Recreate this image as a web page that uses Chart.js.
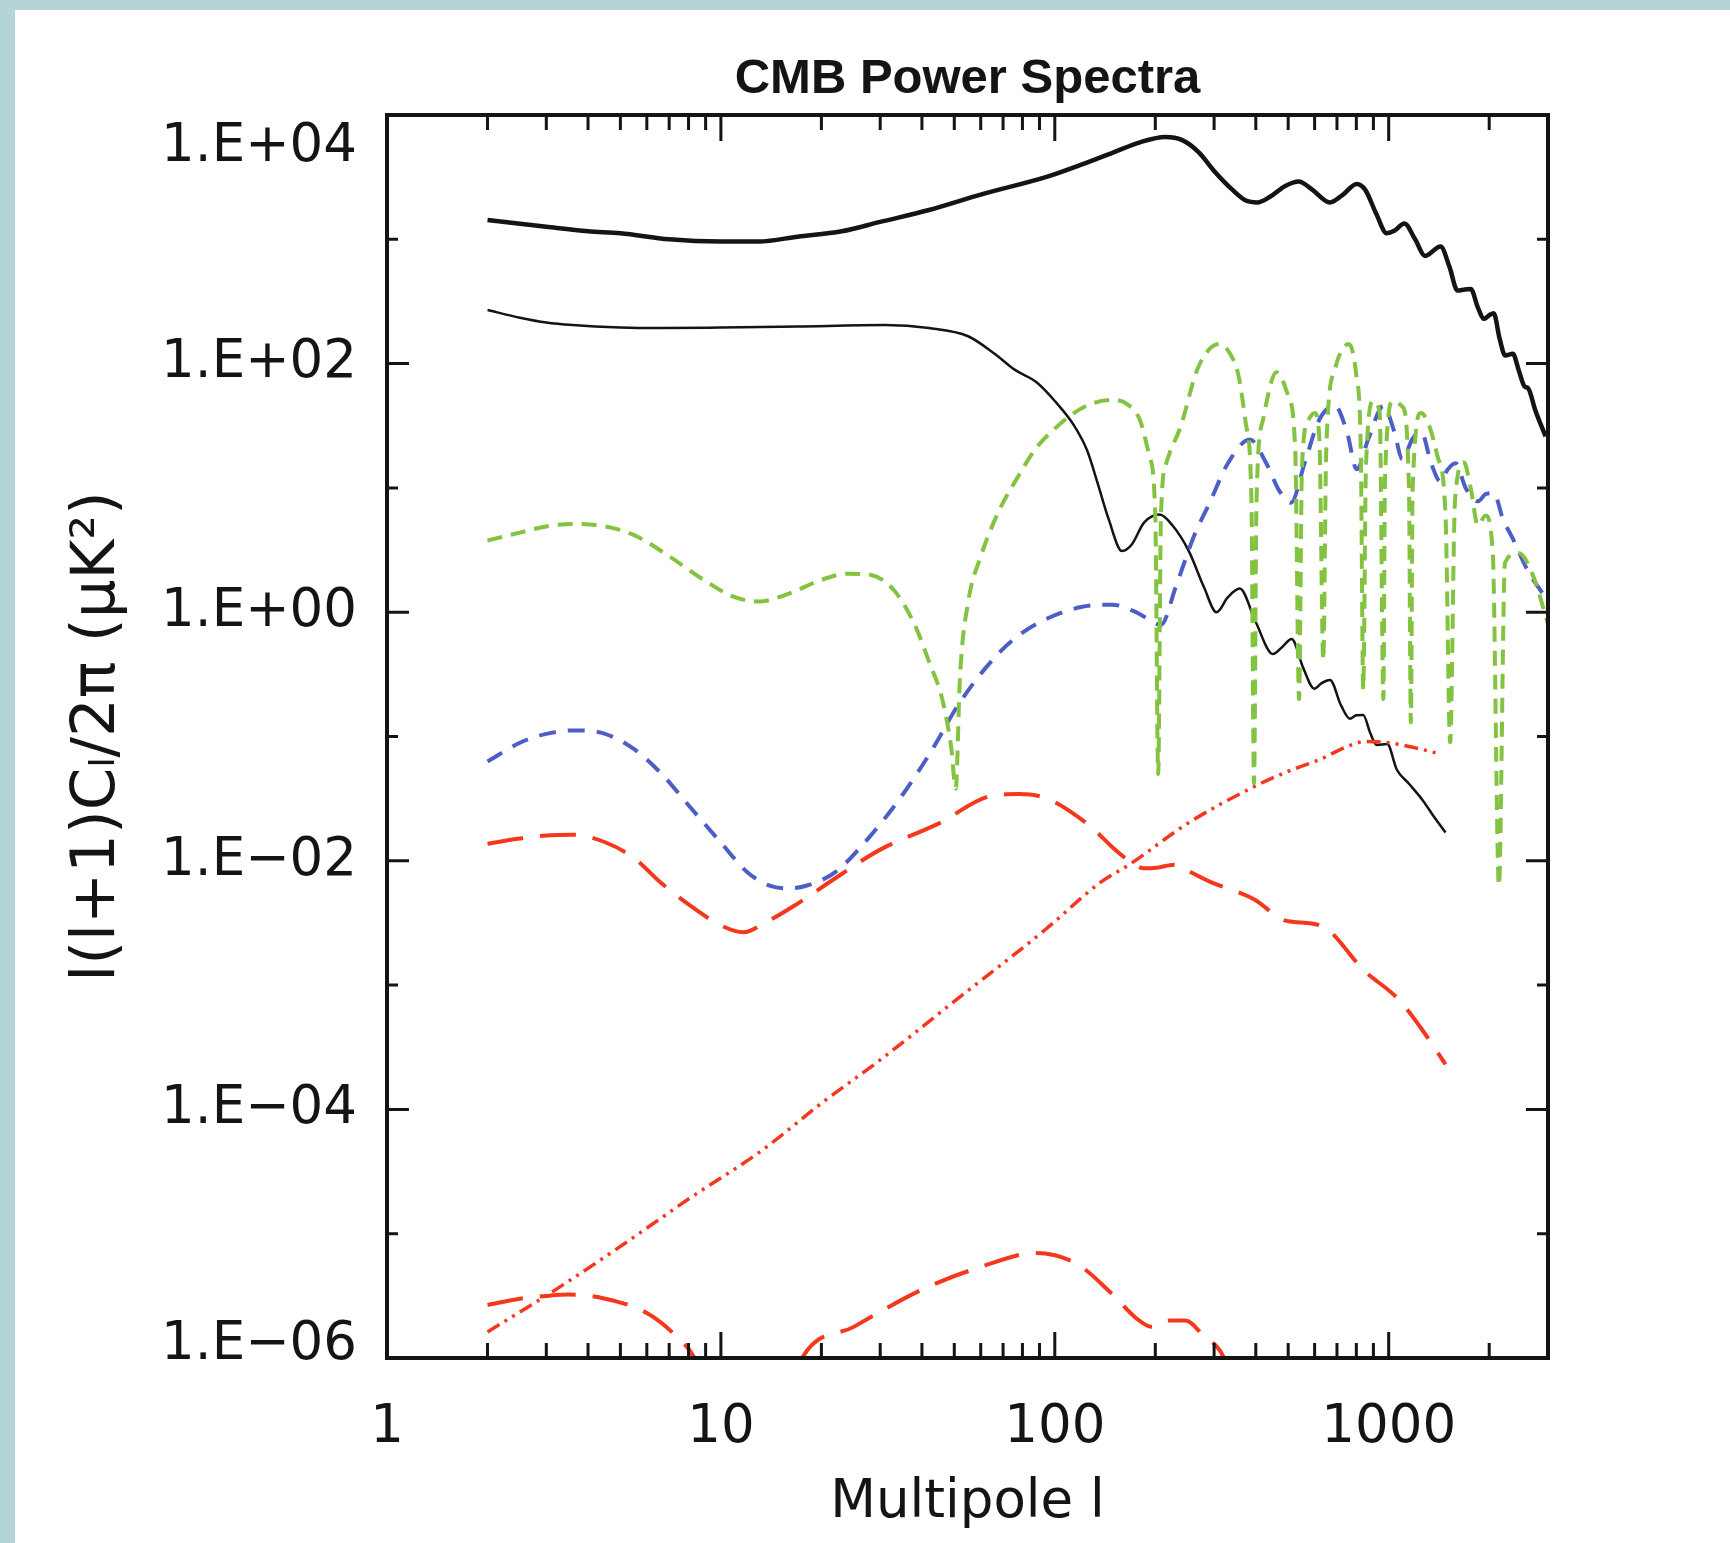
<!DOCTYPE html>
<html>
<head>
<meta charset="utf-8">
<script src="https://cdn.jsdelivr.net/npm/chart.js@4.4.0/dist/chart.umd.min.js"></script>
<style>
  html, body { margin: 0; padding: 0; background: #b4d4d5; }
  #panel { position: absolute; left: 15px; top: 10px; width: 1715px; height: 1533px; background: #fff; }
  #wrap { position: absolute; left: 0; top: 0; width: 1730px; height: 1543px; }
</style>
</head>
<body>
<div id="panel"></div>
<div id="wrap"><canvas id="chart" width="1730" height="1543"></canvas></div>
<script>
// multipole l and l(l+1)C_l/2pi (uK^2)
const ttL = [2,3,4,5,7,10,13,17,23,30,42,60,95,120,150,180,214,240,270,300,340,375,404,440,490,538,590,667,730,802,850,920,986,1040,1114,1200,1286,1430,1520,1607,1690,1762,1850,1932,2000,2063,2150,2234,2354,2450,2548,2620,2750,2950];
const ttV = [1430,1260,1160,1120,1000,960,960,1050,1160,1380,1720,2290,3190,3980,5010,6030,6650,6310,5010,3550,2510,2040,1980,2190,2690,2920,2510,1980,2290,2790,2510,1580,1120,1170,1340,1000,735,875,603,387,395,398,282,229,245,254,158,116,120,89,66,63,42,26];

const tensL = [2,2.5,3,3.6,5,6.6,10,17,31,42,55,66,76,88,100,114,125,134,145,159,170,185,206,225,252,280,305,330,358,400,450,480,512,555,599,630,667,720,765,800,839,880,921,990,1057,1150,1270,1370,1480];
const tensV = [270,234,214,204,195,193,195,199,204,193,166,120,89,71,50,32,20,11.2,5.6,3.1,3.5,5.25,6.1,5.0,3.1,1.58,1.0,1.32,1.55,0.83,0.46,0.525,0.61,0.355,0.242,0.269,0.285,0.178,0.139,0.148,0.149,0.107,0.0855,0.087,0.0543,0.0417,0.0302,0.0224,0.0169];

const teL = [2,2.5,3,3.6,4.5,5.5,7,9,11,13,16,20,24,28,33,38,42,46,49,50.5,52,55,60,67.6,78,88,100,114,130,150,165,180,192,200,204,208,216,239,266,290,311,335,355,374,388,395,402,420,461,500,525,539,550,575,600,620,637,650,690,760,800,825,839,855,900,940,964,975,1030,1100,1150,1165,1180,1250,1320,1400,1480,1528,1580,1680,1760,1850,1950,2050,2139,2230,2450,2700,3000];
const teV = [3.77,4.37,4.9,5.13,4.9,4.17,2.82,1.78,1.32,1.22,1.41,1.82,2.04,2.0,1.5,0.8,0.4,0.2,0.08,0.038,0.3,1.2,2.8,6.3,12.6,21,30,40,48,51,47,35,18,6,0.05,6,16,32,87,130,144,120,80,32,8,0.042,8,35,85,55,20,0.2,15,35,40,25,0.41,20,90,144,80,20,0.24,15,50,40,0.2,12,50,45,10,0.13,10,40,32,18,6,0.09,8,16,10,5,6,3,0.0063,2.5,3,2,0.8];

const eeL = [2,2.5,3,3.6,4.5,5.5,6.6,8,10,12,14,15.8,18,22,28,35,43,51,62,75,95,120,148,175,201,208,230,260,291,330,384,430,470,510,560,620,690,750,802,870,964,1040,1098,1180,1253,1340,1430,1500,1585,1700,1853,1950,2063,2200,2354,2600,3000];
const eeV = [0.063,0.089,0.105,0.112,0.105,0.079,0.051,0.028,0.014,0.0081,0.0063,0.006,0.0063,0.0081,0.0158,0.034,0.079,0.174,0.355,0.6,0.89,1.1,1.15,1.0,0.81,0.79,1.58,3.98,7.6,15.8,24.5,15.8,9.5,7.6,15.8,35.5,45.7,28.2,14.1,25,45.7,28.2,17,25,28,15.8,11.2,14,15.8,10,7.8,8.9,9.1,5.6,3.9,2.2,1.23];

const bbtL = [2,2.5,3,3.6,4.5,5.5,6.6,8,10,11.7,13.5,16.4,22.3,30,45,64,78,95,127,150,167,185,202,228,260,291,395,491,627,849,1064,1250,1480];
const bbtV = [0.0137,0.0151,0.016,0.0162,0.0141,0.0105,0.00668,0.00447,0.00302,0.00266,0.00316,0.00427,0.00741,0.0123,0.02,0.0331,0.0344,0.0316,0.0192,0.0126,0.01,0.0087,0.0088,0.0093,0.0079,0.0068,0.0049,0.0033,0.003,0.00129,0.00078,0.00045,0.00023];

const lensL = [2,3.2,5,8,13.3,20,30,50,93,137,167,250,384,500,627,750,851,1000,1200,1436];
const lensV = [1.62e-6,3.55e-6,7.9e-6,1.9e-5,4.7e-5,1.12e-4,2.5e-4,7.4e-4,2.75e-3,6.7e-3,9.3e-3,0.02,0.038,0.0525,0.066,0.083,0.091,0.089,0.081,0.072];

const bblL = [2,2.5,3,3.5,4.5,6,7.2,8.3,10,15,17.5,25,40,60,88,116,148,175,195,220,246,280,312,360];
const bblV = [2.67e-6,3.0e-6,3.16e-6,3.24e-6,3.0e-6,2.3e-6,1.58e-6,1.02e-6,3e-7,3e-7,1e-6,1.78e-6,3.55e-6,5.4e-6,7.0e-6,5.75e-6,3.3e-6,2.1e-6,1.78e-6,2.0e-6,2.0e-6,1.5e-6,1.15e-6,5e-7];

const xTicks = [1, 10, 100, 1000];
const yTicks = [1e-6, 1e-4, 1e-2, 1, 1e2, 1e4];
const yMinor = [1e-5, 1e-3, 1e-1, 10, 1e3];

function points(ls, vs) {
    return ls.map((l, i) => ({ x: l, y: vs[i] }));
}

function expLabel(v) {
    const e = Math.round(Math.log10(v));
    const sign = e < 0 ? '\u2212' : '+';
    return '1.E' + sign + String(Math.abs(e)).padStart(2, '0');
}

const ink = '#141414';
const green = '#84c341';
const blue = '#4d5fc6';
const red = '#f4381e';
const tickFont = { family: 'DejaVu Sans', size: 53 };

// inward ticks on all four sides, plus the box
const framePlugin = {
    id: 'frame',
    afterDatasetsDraw(chart) {
        const { ctx, chartArea: a, scales } = chart;
        const x = scales.x, y = scales.y;
        ctx.save();
        ctx.strokeStyle = ink;
        ctx.lineWidth = 3;
        ctx.beginPath();
        for (let k = 1; k <= 1000; k *= 10) {
            for (let m = 1; m <= 9; m++) {
                const v = m * k;
                if (v > 3000) break;
                const px = x.getPixelForValue(v);
                const len = m === 1 ? 26 : 15;
                ctx.moveTo(px, a.bottom); ctx.lineTo(px, a.bottom - len);
                ctx.moveTo(px, a.top); ctx.lineTo(px, a.top + len);
            }
        }
        yTicks.concat(yMinor).forEach(v => {
            const py = y.getPixelForValue(v);
            const len = yMinor.includes(v) ? 11 : 22;
            ctx.moveTo(a.left, py); ctx.lineTo(a.left + len, py);
            ctx.moveTo(a.right, py); ctx.lineTo(a.right - len, py);
        });
        ctx.stroke();
        ctx.lineWidth = 4;
        ctx.strokeRect(a.left, a.top, a.right - a.left, a.bottom - a.top);
        ctx.restore();
    }
};

function line(ls, vs, color, width, dash) {
    return {
        data: points(ls, vs),
        borderColor: color,
        borderWidth: width,
        borderDash: dash,
        pointRadius: 0,
        fill: false,
        cubicInterpolationMode: 'monotone'
    };
}

new Chart(document.getElementById('chart'), {
    type: 'line',
    data: {
        datasets: [
            line(teL, teV, green, 4, [15, 9]),
            line(eeL, eeV, blue, 4, [17, 12]),
            line(bbtL, bbtV, red, 4, [36, 17]),
            line(bblL, bblV, red, 4, [36, 17]),
            line(lensL, lensV, red, 3.5, [14, 6, 3, 6, 3, 6]),
            line(tensL, tensV, ink, 2.5, []),
            line(ttL, ttV, ink, 4.5, [])
        ]
    },
    options: {
        responsive: false,
        animation: false,
        layout: { padding: { left: 0, top: 0, right: 182, bottom: 0 } },
        plugins: { legend: { display: false }, tooltip: { enabled: false } },
        scales: {
            x: {
                type: 'logarithmic',
                position: 'bottom',
                min: 1,
                max: 3000,
                afterBuildTicks: s => { s.ticks = xTicks.map(v => ({ value: v })); },
                afterFit: s => { s.height = 185; },
                grid: { display: false },
                border: { display: false },
                ticks: { font: tickFont, color: ink, padding: 30, maxRotation: 0, autoSkip: false, callback: v => String(v) },
                title: { display: true, text: 'Multipole l', font: tickFont, color: ink, padding: { top: 0, bottom: 8 } }
            },
            top: {
                type: 'logarithmic',
                position: 'top',
                min: 1,
                max: 3000,
                afterFit: s => { s.height = 115; },
                grid: { display: false },
                border: { display: false },
                ticks: { display: false },
                title: { display: true, text: 'CMB Power Spectra', font: { family: 'Liberation Sans', size: 49, weight: 'bold' }, color: ink, padding: { top: 50, bottom: 0 } }
            },
            y: {
                type: 'logarithmic',
                position: 'left',
                min: 1e-6,
                max: 1e4,
                afterBuildTicks: s => { s.ticks = yTicks.map(v => ({ value: v })); },
                afterFit: s => { s.width = 387; },
                grid: { display: false },
                border: { display: false },
                ticks: {
                    // the end labels sit inside the box, as in the original
                    font: c => ({ family: 'DejaVu Sans', size: 53, lineHeight: c.tick && c.tick.value === 1e-6 ? 0.5 : 1.2 }),
                    color: ink,
                    padding: 22,
                    autoSkip: false,
                    callback: v => v === 1e4 ? ['', expLabel(v)] : v === 1e-6 ? [expLabel(v), ''] : expLabel(v)
                },
                title: { display: true, text: 'l(l+1)C\u2097/2\u03c0 (\u03bcK\u00b2)', font: { family: 'DejaVu Sans', size: 61 }, color: ink, padding: { top: 62, bottom: 0 } }
            }
        }
    },
    plugins: [framePlugin]
});
</script>
</body>
</html>
